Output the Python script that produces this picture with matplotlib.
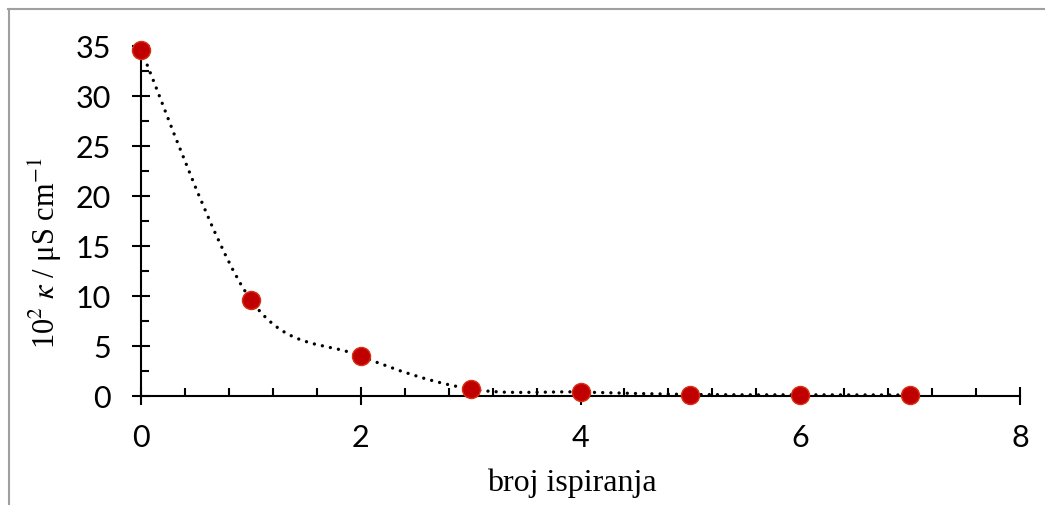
import matplotlib
matplotlib.use('Agg')
import matplotlib.pyplot as plt
from matplotlib.path import Path
from matplotlib.patches import PathPatch
from matplotlib.lines import Line2D
from matplotlib.ticker import MultipleLocator
import numpy as np

# podaci
broj_ispiranja = [0, 1, 2, 3, 4, 5, 6, 7]
kappa = [34.6, 9.6, 4.0, 0.7, 0.4, 0.15, 0.12, 0.1]

plt.rcParams['mathtext.fontset'] = 'stix'

W, H = 1045, 506
fig = plt.figure(figsize=(W / 100, H / 100), dpi=100)
ax = fig.add_axes([141 / W, 1 - 397 / H, (1020 - 141) / W, (397 - 47) / H])

# glatka linija (Bezier kao u Excelu)
x = np.array(broj_ispiranja, dtype=float)
y = np.array(kappa, dtype=float)
pts = np.column_stack([x, y])
n = len(pts)
verts = [pts[0]]
codes = [Path.MOVETO]
for i in range(n - 1):
    p_prev = pts[i - 1] if i > 0 else pts[i]
    p_next2 = pts[i + 2] if i + 2 < n else pts[i + 1]
    c1 = pts[i] + (pts[i + 1] - p_prev) / 6
    c2 = pts[i + 1] - (p_next2 - pts[i]) / 6
    verts += [c1, c2, pts[i + 1]]
    codes += [Path.CURVE4] * 3
patch = PathPatch(Path(verts, codes), fill=False, edgecolor='black', lw=2.4,
                  linestyle=(0, (0.01, 2.45)), capstyle='round', zorder=2)
ax.add_patch(patch)

ax.plot(x, y, 'o', color='#C00000', markersize=13, markeredgecolor='#D83010',
        markeredgewidth=1, zorder=3, clip_on=False)

ax.set_xlim(0, 8)
ax.set_ylim(0, 35)
ax.xaxis.set_major_locator(MultipleLocator(2))
ax.xaxis.set_minor_locator(MultipleLocator(0.4))
ax.yaxis.set_major_locator(MultipleLocator(5))
ax.yaxis.set_minor_locator(MultipleLocator(2.5))

for s in ['top', 'right']:
    ax.spines[s].set_visible(False)
for s in ['left', 'bottom']:
    ax.spines[s].set_linewidth(1.5)

ax.tick_params(which='major', direction='inout', length=13, width=1.5, labelsize=22)
ax.tick_params(axis='x', which='major', pad=13)
ax.tick_params(axis='y', which='major', pad=15)
ax.tick_params(which='minor', direction='in', length=6, width=1.5)
for lab in ax.get_xticklabels() + ax.get_yticklabels():
    lab.set_family('Lato')

fig.text(572 / W, 1 - 483 / H, 'broj ispiranja', family='Liberation Serif',
         fontsize=23, ha='center', va='center')
fig.text(45 / W, 1 - 253 / H, r'10$^2$ $\mathit{\kappa}$ / μS cm$^{-1}$',
         family='Liberation Serif', fontsize=22, ha='center', va='center',
         rotation=90)

# okvir slike
fig.add_artist(Line2D([8 / W, 1], [1 - 10 / H] * 2, color='#A0A0A0', lw=1.5))
fig.add_artist(Line2D([9 / W] * 2, [0, 1 - 10 / H], color='#A0A0A0', lw=1.5))

fig.savefig('out.png', dpi=100)
